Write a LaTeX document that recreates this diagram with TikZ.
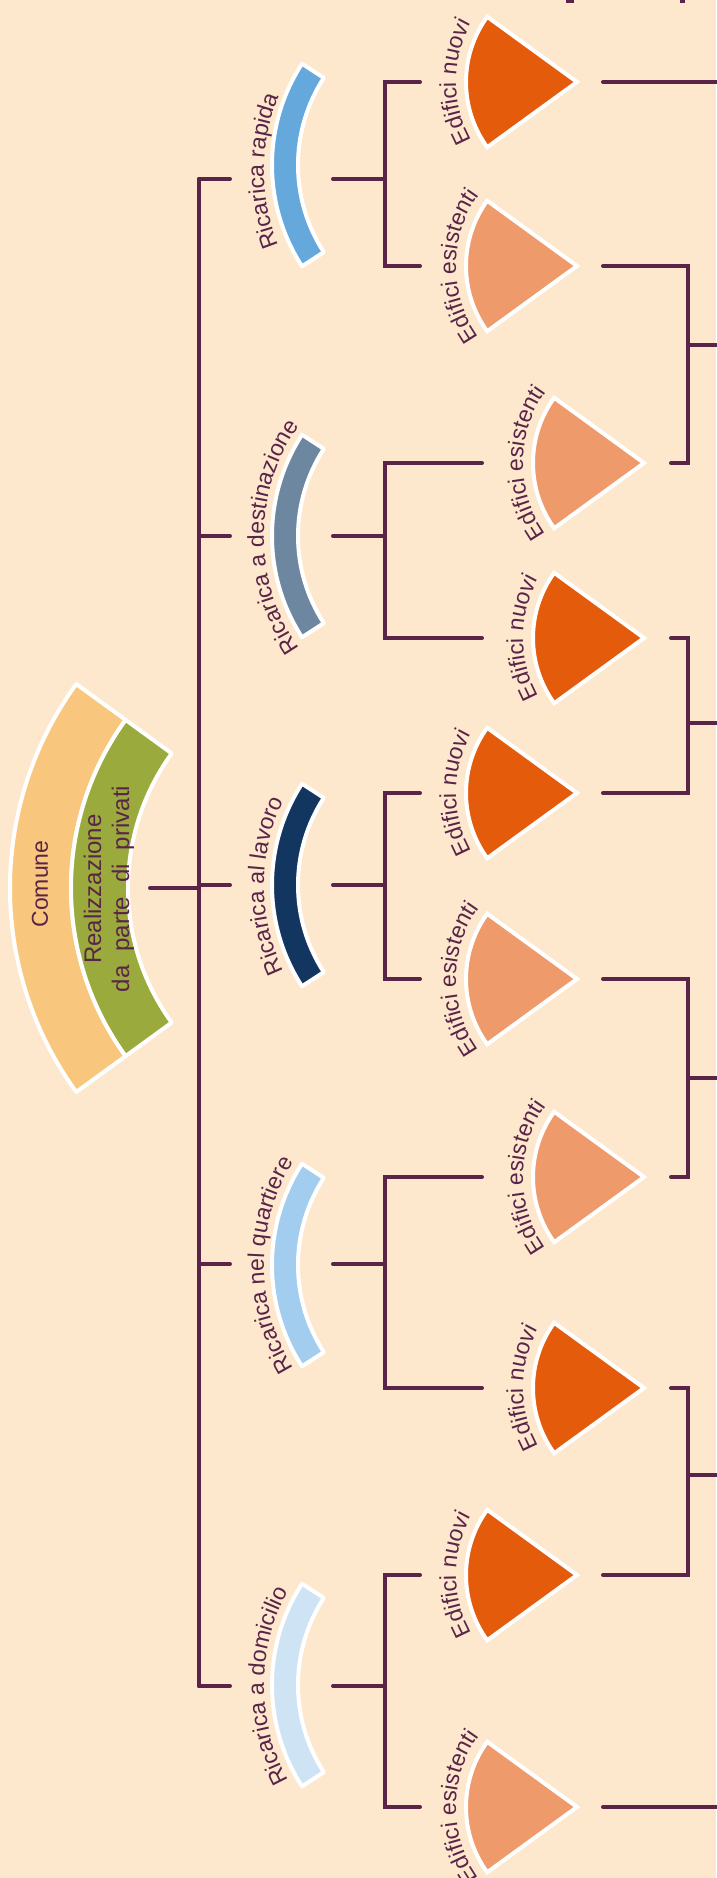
\documentclass[tikz,border=0pt]{standalone}
\usepackage{fontspec}
\setmainfont{Liberation Sans}
\usetikzlibrary{decorations.text}

\definecolor{paper}{RGB}{253,232,206}
\definecolor{ink}{RGB}{90,36,72}
\definecolor{comune}{RGB}{248,199,125}
\definecolor{privati}{RGB}{154,170,61}
\definecolor{rapida}{RGB}{101,168,220}
\definecolor{destinaz}{RGB}{109,135,160}
\definecolor{lavoro}{RGB}{19,54,96}
\definecolor{quartiere}{RGB}{163,205,238}
\definecolor{domicilio}{RGB}{206,227,244}
\definecolor{nuovi}{RGB}{229,91,12}
\definecolor{esist}{RGB}{238,154,107}

\newcommand\lblfont{\fontsize{23}{27}\selectfont}
\newcommand\rootfont{\fontsize{24}{28}\selectfont}

% curved band for one kind of charging, with its label along the outer rim
\newcommand\ChargeArc[5]{%
  \coordinate (#1-c) at (458,-#2);
  \path[band, fill=#3] ([shift={(147:186pt)}]#1-c) arc[start angle=147,end angle=213,radius=186pt]
     -- ([shift={(213:160pt)}]#1-c) arc[start angle=213,end angle=147,radius=160pt] -- cycle;
  \coordinate (#1-lc) at (458,-#5);
  \path[arclabel={#4}] ([shift={(240:194pt)}]#1-lc) arc[start angle=240,end angle=120,radius=194pt];
}

% pie wedge for a building type, apex to the right, label along the arc
\newcommand\LeafWedge[5]{%
  \coordinate (#1) at (#2,-#3);
  \path[wedge, fill=#4] (#1) -- ([shift={(144:111pt)}]#1) arc[start angle=144,end angle=216,radius=111pt] -- cycle;
  \path[arclabel={#5}] ([shift={(230:121pt)}]#1) arc[start angle=230,end angle=130,radius=121pt];
}

\begin{document}
\begin{tikzpicture}[x=1pt,y=1pt,
  link/.style={draw=ink, line width=4pt, line cap=round, line join=miter},
  band/.style={draw=white, line width=4pt, line join=round},
  wedge/.style={draw=white, line width=4pt, line join=miter},
  arclabel/.style={decorate, decoration={text along path, text align=center,
      text color=ink, text={|\lblfont|#1}}},
  rootlabel/.style={rotate=90, text=ink, font=\rootfont, align=center, inner sep=0pt}
]
\fill[paper] (0,-1878) rectangle (716,0);
\useasboundingbox (0,-1878) rectangle (716,0);

% stubs of strokes running in from the top edge
\fill[ink] (566,0) rectangle (574,-3.5);
\fill[ink] (680,0) rectangle (684.5,-3);

% ---- root: two stacked bands ----
\coordinate (rc) at (357,-888);
\path[band, fill=comune] ([shift={(144:347pt)}]rc) arc[start angle=144,end angle=216,radius=347pt]
   -- ([shift={(216:286pt)}]rc) arc[start angle=216,end angle=144,radius=286pt] -- cycle;
\path[band, fill=privati] ([shift={(144:286pt)}]rc) arc[start angle=144,end angle=216,radius=286pt]
   -- ([shift={(216:229pt)}]rc) arc[start angle=216,end angle=144,radius=229pt] -- cycle;
\node[rootlabel, font=\lblfont] (comune) at (40,-884) {Comune};
\node[rootlabel] (privatilbl) at (109,-889)
  {Realizzazione\\{\spaceskip=14pt plus 2pt da parte di privati}};

% ---- trunk ----
\coordinate (rootstem) at (150,-888);
\coordinate (trunktop) at (199,-179);
\coordinate (trunkbot) at (199,-1686);
\draw[link] (trunktop) -- (trunkbot);
\draw[link] (rootstem) -- (rootstem -| trunktop);

% ---- first level ----
\ChargeArc{rap}{165}{rapida}{Ricarica rapida}{171}
\ChargeArc{des}{536}{destinaz}{Ricarica a destinazione}{537}
\ChargeArc{lav}{885}{lavoro}{Ricarica al lavoro}{886}
\ChargeArc{qua}{1265}{quartiere}{Ricarica nel quartiere}{1265}
\ChargeArc{dom}{1685}{domicilio}{Ricarica a domicilio}{1686}

\foreach \n/\y in {rap/179, des/536, lav/885, qua/1264, dom/1686}{
  \coordinate (\n-tick) at (230,-\y);
  \coordinate (\n-stem) at (333,-\y);
  \coordinate (\n-fork) at (385,-\y);
  \draw[link] (\n-tick) -- (\n-tick -| trunktop);
  \draw[link] (\n-stem) -- (\n-fork);
}

% ---- building wedges ----
\LeafWedge{rapN}{577}{82}{nuovi}{Edifici nuovi}
\LeafWedge{rapE}{577}{266}{esist}{Edifici esistenti}
\LeafWedge{desE}{644}{463}{esist}{Edifici esistenti}
\LeafWedge{desN}{644}{638}{nuovi}{Edifici nuovi}
\LeafWedge{lavN}{577}{793}{nuovi}{Edifici nuovi}
\LeafWedge{lavE}{577}{979}{esist}{Edifici esistenti}
\LeafWedge{quaE}{644}{1177}{esist}{Edifici esistenti}
\LeafWedge{quaN}{644}{1388}{nuovi}{Edifici nuovi}
\LeafWedge{domN}{577}{1575}{nuovi}{Edifici nuovi}
\LeafWedge{domE}{577}{1807}{esist}{Edifici esistenti}

% inbound lines from each fork
\foreach \leaf/\fork/\x in {rapN/rap/420, rapE/rap/420, desE/des/482, desN/des/482,
    lavN/lav/420, lavE/lav/420, quaE/qua/482, quaN/qua/482, domN/dom/420, domE/dom/420}{
  \coordinate (\leaf-in) at (\x,0 |- \leaf);
  \draw[link] (\leaf-in) -| (\fork-fork);
}

% outbound lines
\foreach \leaf/\x in {rapN/603, rapE/603, desE/671, desN/671, lavN/603, lavE/603,
    quaE/671, quaN/671, domN/603, domE/603}{
  \coordinate (\leaf-out) at (\x,0 |- \leaf);
}
\coordinate (brA) at (688,-345);
\coordinate (brB) at (688,-723);
\coordinate (brC) at (688,-1078);
\coordinate (brD) at (688,-1475);
\coordinate (edge) at (722,0);
\draw[link] (rapE-out) -| (brA);  \draw[link] (desE-out) -| (brA);
\draw[link] (desN-out) -| (brB);  \draw[link] (lavN-out) -| (brB);
\draw[link] (lavE-out) -| (brC);  \draw[link] (quaE-out) -| (brC);
\draw[link] (quaN-out) -| (brD);  \draw[link] (domN-out) -| (brD);
\foreach \p in {brA, brB, brC, brD, rapN-out, domE-out}{
  \draw[link] (\p) -- (\p -| edge);
}
\end{tikzpicture}
\end{document}
